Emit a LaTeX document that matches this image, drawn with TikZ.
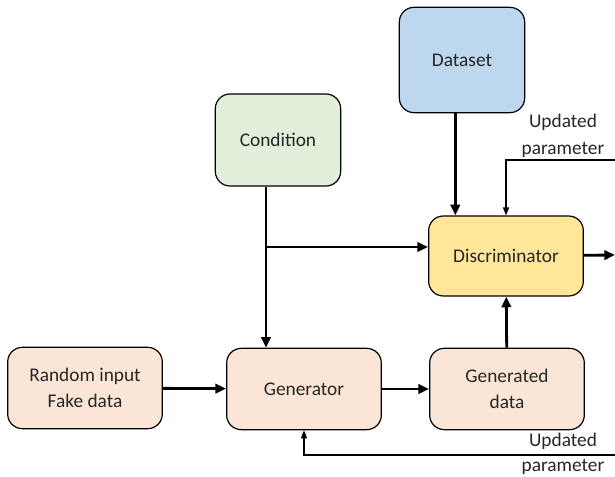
\documentclass[tikz,border=0pt]{standalone}
\usepackage{fontspec}
\setmainfont{Carlito}
\usetikzlibrary{arrows.meta,positioning}

\definecolor{dataBlue}{HTML}{BDD7EE}
\definecolor{condGreen}{HTML}{E2EFDA}
\definecolor{discYellow}{HTML}{FFE699}
\definecolor{genPeach}{HTML}{FBE5D6}

\begin{document}
\begin{tikzpicture}[x=0.75pt, y=-0.75pt,
    block/.style={draw, line width=0.9pt, rounded corners=11pt, align=center,
        font=\fontsize{14.5}{19.5}\selectfont, text=black!85},
    flow/.style={-{Triangle[length=8pt,width=7pt]}, line width=2.1pt},
    feedback/.style={-{Triangle[length=6pt,width=4.5pt]}, line width=1pt},
    lbl/.style={align=center, font=\fontsize{14.5}{20}\selectfont, text=black!85}]
    \useasboundingbox (0,0) rectangle (615,477);

    % boxes
    \node[block, fill=dataBlue, minimum width=94pt, minimum height=79pt] (data) at (462,60) {Dataset};
    \node[block, fill=condGreen, minimum width=94pt, minimum height=69pt] (cond) at (278,140) {Condition};
    \node[block, fill=discYellow, minimum width=116pt, minimum height=60pt] (disc) at (506,256) {Discriminator};
    \node[block, fill=genPeach, minimum width=116pt, minimum height=61pt] (rand) at (85,388) {Random input\\Fake data};
    \node[block, fill=genPeach, minimum width=116pt, minimum height=61pt] (gen) at (304,389) {Generator};
    \node[block, fill=genPeach, minimum width=116pt, minimum height=61pt] (gend) at (507,389) {Generated\\data};

    % labels
    \node[lbl] (updA) at (563,136) {Updated\\parameter};
    \node[lbl] (updB) at (563,441) {Updated};
    \node[lbl] (updC) at (563,467) {parameter};

    \coordinate (split) at (266,247);
    \coordinate (fbtop) at (615,160);
    \coordinate (fbbot) at (615,455);
    \coordinate (out) at (615,255);

    % main flow
    \draw[flow] ([xshift=-5pt]data.south) -- ([xshift=-5pt]data.south |- disc.north);
    \draw[flow] ([xshift=-9pt]cond.south) -- ([xshift=-9pt]cond.south |- gen.north);
    \draw[flow] (split) -- (split -| disc.west);
    \draw[flow] (rand) -- (gen);
    \draw[flow] (gen) -- (gend);
    \draw[flow] (gend) -- (disc);
    \draw[flow] (disc) -- (out);

    % parameter updates
    \draw[feedback] (fbtop) -| (disc.north);
    \draw[feedback] (fbbot) -| (gen.south);
\end{tikzpicture}
\end{document}
